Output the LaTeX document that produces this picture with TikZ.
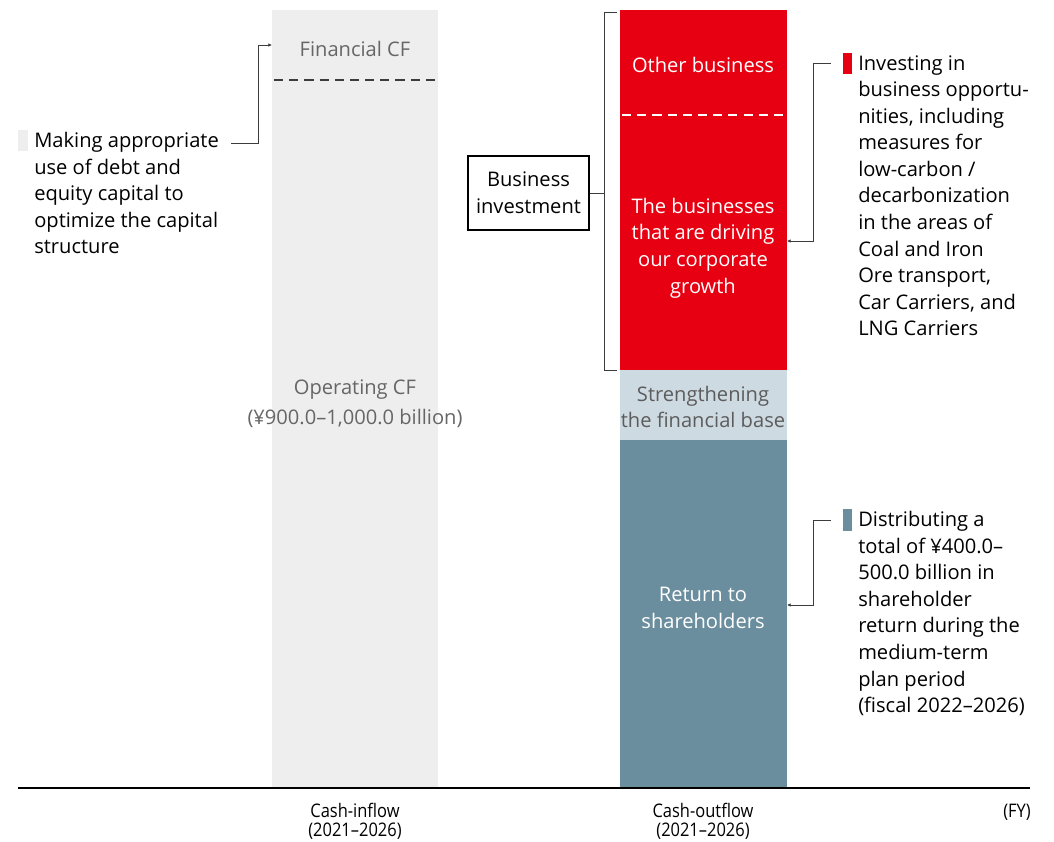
\documentclass[tikz,border=0pt]{standalone}
\usepackage{fontspec}
\setmainfont{Open Sans}
\newfontfamily\axisfont[FakeStretch=0.88]{Open Sans}
\usetikzlibrary{arrows.meta, positioning}
\definecolor{bizred}{RGB}{230, 0, 18}
\definecolor{inflowgray}{RGB}{238, 238, 238}
\definecolor{basegray}{RGB}{206, 218, 225}
\definecolor{returnslate}{RGB}{107, 142, 158}
\definecolor{labelgray}{RGB}{102, 102, 102}
\definecolor{linegray}{RGB}{60, 60, 60}

\begin{document}
\begin{tikzpicture}[x=0.025cm, y=-0.025cm,
    body/.style={font=\fontsize{14.3}{18.9}\selectfont, inner sep=0pt},
    note/.style={body, align=left, anchor=north west},
    inbar/.style={body, align=center},
    axislabel/.style={font=\axisfont\fontsize{13.3}{13.6}\selectfont, align=center, inner sep=0pt},
    link/.style={linegray, line width=0.6pt},
    linktip/.style={link, -{Latex[length=2.6pt, width=2.6pt]}}]
  \useasboundingbox (0,0) rectangle (1054,842);

  % cash-inflow column
  \fill[inflowgray] (272,10) rectangle (438,788);
  \draw[linegray, line width=1.5pt, dash pattern=on 6.5pt off 4.3pt] (274,80) -- (438,80);
  \node[inbar, text=labelgray] (fincf) at (355,49) {Financial CF};
  \node[inbar, text=labelgray] (opcf) at (355,404) {Operating CF\\[2.5pt](¥900.0–1,000.0 billion)};

  % cash-outflow column
  \fill[bizred] (620,10) rectangle (787,370);
  \fill[basegray] (620,370) rectangle (787,440);
  \fill[returnslate] (620,440) rectangle (787,788);
  \draw[white, line width=1.5pt, dash pattern=on 6.5pt off 4.3pt] (622,115) -- (787,115);
  \node[inbar, text=white] (other) at (703,65) {Other business};
  \node[inbar, text=white] (growth) at (703,248) {The businesses\\that are driving\\our corporate\\growth};
  \node[inbar, text=labelgray!90!black] (base) at (703,407) {Strengthening\\the financial base};
  \node[inbar, text=white] (ret) at (703,608) {Return to\\shareholders};

  % axis and labels
  \draw[black, line width=0.8pt] (18,788) -- (1030,788);
  \node[axislabel] (inflow) at (355,821) {Cash-inflow\\(2021–2026)};
  \node[axislabel] (outflow) at (703,821) {Cash-outflow\\(2021–2026)};
  \node[axislabel, anchor=east] (fy) at (1031,812) {(FY)};

  % business investment bracket
  \node[draw, line width=0.8pt, minimum width=121*0.025cm, minimum height=74*0.025cm,
        inner sep=0pt, body, align=center] (invest) at (528.5,193) {Business\\investment};
  \coordinate (brtop) at (617,12);
  \coordinate (brbot) at (617,370);
  \draw[link] (brtop) -- (604,12) -- (604,370) -- (brbot);
  \draw[link] (invest.east) -- (604,193);

  % note on the financing side
  \fill[inflowgray] (18,130) rectangle (28,151);
  \node[note] (debt) at (34,132) {Making appropriate\\use of debt and\\equity capital to\\optimize the capital\\structure};
  \coordinate (debtend) at (231,143);
  \coordinate (fintip) at (272,45);
  \draw[linktip] (debtend) -- (258,143) |- (fintip);

  % note on business investment
  \fill[bizred] (843,53) rectangle (852,74);
  \node[note] (invnote) at (858,55) {Investing in\\business opportu-\\nities, including\\measures for\\low-carbon /\\decarbonization\\in the areas of\\Coal and Iron\\Ore transport,\\Car Carriers, and\\LNG Carriers};
  \coordinate (invstart) at (831,63);
  \coordinate (growthtip) at (787,241);
  \draw[linktip] (invstart) -- (813,63) |- (growthtip);

  % note on shareholder return
  \fill[returnslate] (843,509) rectangle (852,531);
  \node[note] (retnote) at (858,511) {Distributing a\\total of ¥400.0–\\500.0 billion in\\shareholder\\return during the\\medium-term\\plan period\\(fiscal 2022–2026)};
  \coordinate (retstart) at (831,520);
  \coordinate (rettip) at (787,605);
  \draw[linktip] (retstart) -- (813,520) |- (rettip);
\end{tikzpicture}
\end{document}
